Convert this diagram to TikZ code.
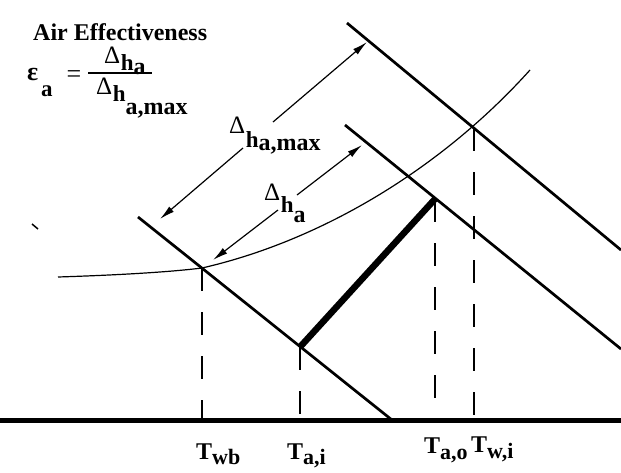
\documentclass[tikz,border=0pt]{standalone}
\usepackage{fontspec}
\setmainfont{Liberation Serif}
\usetikzlibrary{arrows.meta}
\newcommand\myfs[1]{\fontsize{#1}{#1}\selectfont}
\newcommand\dhlab[3]{{\normalfont\myfs{25}Δ}\kern0.5pt\raisebox{-#1pt}{\bfseries\myfs{23}h}\raisebox{-#2pt}{\bfseries\myfs{24}#3}}
\newcommand\tlab[2]{T\raisebox{-#1pt}{\myfs{22}#2}}
\tikzset{
  axisline/.style={line width=5pt},
  diagline/.style={line width=2.7pt},
  heavyseg/.style={line width=6.5pt},
  vdash/.style={line width=1.1pt, dash pattern=on 23pt off 21pt},
  satcurve/.style={line width=1.2pt},
  dimarrow/.style={line width=1.2pt, -{Latex[length=15pt,width=7pt]}},
  lbl/.style={anchor=base west, inner sep=0pt, font=\bfseries\myfs{24}},
}
\begin{document}
\begin{tikzpicture}[x=1pt,y=-1pt]
\useasboundingbox (0,0) rectangle (621,472);
% key points
\coordinate (axL) at (0,420); \coordinate (axR) at (621,420);
\coordinate (L1a) at (138,217); \coordinate (L1b) at (392,420);
\coordinate (L2a) at (345,125); \coordinate (L2b) at (621,349);
\coordinate (L3a) at (347,23);  \coordinate (L3b) at (621,250);
\coordinate (Pwb) at (202,268); \coordinate (Bwb) at (202,420);
\coordinate (Pai) at (300,347); \coordinate (Bai) at (300,420);
\coordinate (Pao) at (435,199); \coordinate (Bao) at (435,420);
\coordinate (Pwi) at (474,128); \coordinate (Bwi) at (474,420);
\coordinate (stA) at (32,224); \coordinate (stB) at (38,229);
\coordinate (barL) at (88,73); \coordinate (barR) at (152,73);
\coordinate (cS) at (58,277); \coordinate (cE) at (530,70);
% arrows coordinates
\coordinate (AmL) at (160,219); \coordinate (AmG1) at (243,148);
\coordinate (AmG2) at (273,122); \coordinate (AmU) at (367,42);
\coordinate (AaL) at (213,260); \coordinate (AaG1) at (278,210);
\coordinate (AaG2) at (297,195); \coordinate (AaU) at (362,145);
% saturation curve
\draw[satcurve] (cS) .. controls (120,275) and (170,272) .. (Pwb)
                     .. controls (320,241) and (440,170) .. (cE);
% dashed verticals
\draw[vdash] (Pwb) -- (Bwb);
\draw[vdash] (Pai) -- (Bai);
\draw[vdash] (Pao) -- (Bao);
\draw[vdash] (Pwi) -- (Bwi);
% enthalpy lines
\draw[diagline] (L1a) -- (L1b);
\draw[diagline] (L2a) -- (L2b);
\draw[diagline] (L3a) -- (L3b);
\draw[heavyseg] (Pai) -- (Pao);
\draw[axisline] (axL) -- (axR);
\draw[line width=1.5pt] (stA) -- (stB);
% dimension arrows
\draw[dimarrow] (AmG1) -- (AmL);
\draw[dimarrow] (AmG2) -- (AmU);
\draw[dimarrow] (AaG1) -- (AaL);
\draw[dimarrow] (AaG2) -- (AaU);
% formula
\node[lbl] (airlbl) at (33,40) {Air Effectiveness};
\node[lbl, font=\bfseries\myfs{26}] (eps) at (27,80) {ε};
\node[lbl, font=\bfseries\myfs{23}] (epssub) at (41,96) {a};
\node[inner sep=0pt, font=\myfs{26}] (eq) at (74,77) {=};
\draw[line width=1.2pt] (barL) -- (barR);
\node[lbl] (num) at (104,63) {\dhlab{7}{11}{a}};
\node[lbl] (den) at (96,94) {\dhlab{7}{20}{a,max}};
% arrow labels
\node[lbl] (dhmax) at (229,133) {\dhlab{14}{17}{a,max}};
\node[lbl] (dha) at (264,200) {\dhlab{12}{22}{a}};
% axis labels
\node[lbl] (Twb) at (196,459) {\tlab{5}{wb}};
\node[lbl] (Tai) at (287,459) {\tlab{5}{a,i}};
\node[lbl] (Tao) at (424,453) {\tlab{6}{a,o}};
\node[lbl] (Twi) at (471,452) {\tlab{6}{w,i}};
\end{tikzpicture}
\end{document}
